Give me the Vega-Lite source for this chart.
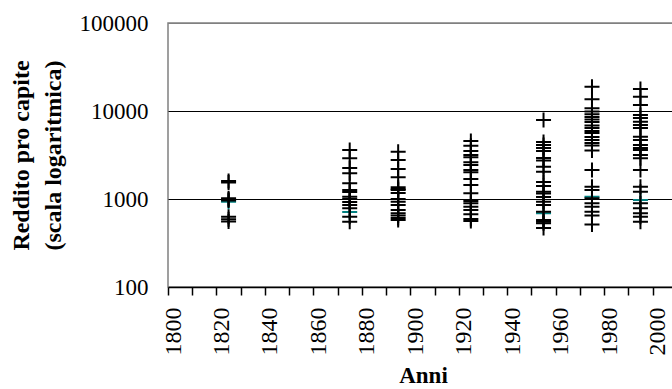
{
  "$schema": "https://vega.github.io/schema/vega-lite/v6.json",
  "width": 510,
  "height": 264,
  "autosize": {"type": "none"},
  "padding": {"left": 168, "top": 23, "right": 0, "bottom": 102},
  "background": "white",
  "config": {
    "font": "Liberation Serif",
    "view": {"stroke": "#808080", "strokeWidth": 1.5}
  },
  "data": {
    "values": [
      {"anno": 1825, "reddito": 930, "serie": "B"},
      {"anno": 1875, "reddito": 712, "serie": "B"},
      {"anno": 1955, "reddito": 688, "serie": "B"},
      {"anno": 1975, "reddito": 1063, "serie": "B"},
      {"anno": 1995, "reddito": 974, "serie": "B"},
      {"anno": 1825, "reddito": 1600, "serie": "A"},
      {"anno": 1825, "reddito": 1540, "serie": "A"},
      {"anno": 1825, "reddito": 1020, "serie": "A"},
      {"anno": 1825, "reddito": 990, "serie": "A"},
      {"anno": 1825, "reddito": 960, "serie": "A"},
      {"anno": 1825, "reddito": 630, "serie": "A"},
      {"anno": 1825, "reddito": 590, "serie": "A"},
      {"anno": 1825, "reddito": 555, "serie": "A"},
      {"anno": 1875, "reddito": 3605, "serie": "A"},
      {"anno": 1875, "reddito": 2900, "serie": "A"},
      {"anno": 1875, "reddito": 2250, "serie": "A"},
      {"anno": 1875, "reddito": 1960, "serie": "A"},
      {"anno": 1875, "reddito": 1507, "serie": "A"},
      {"anno": 1875, "reddito": 1265, "serie": "A"},
      {"anno": 1875, "reddito": 1201, "serie": "A"},
      {"anno": 1875, "reddito": 1063, "serie": "A"},
      {"anno": 1875, "reddito": 1000, "serie": "A"},
      {"anno": 1875, "reddito": 925, "serie": "A"},
      {"anno": 1875, "reddito": 855, "serie": "A"},
      {"anno": 1875, "reddito": 784, "serie": "A"},
      {"anno": 1875, "reddito": 629, "serie": "A"},
      {"anno": 1875, "reddito": 552, "serie": "A"},
      {"anno": 1895, "reddito": 3447, "serie": "A"},
      {"anno": 1895, "reddito": 2774, "serie": "A"},
      {"anno": 1895, "reddito": 2193, "serie": "A"},
      {"anno": 1895, "reddito": 1765, "serie": "A"},
      {"anno": 1895, "reddito": 1358, "serie": "A"},
      {"anno": 1895, "reddito": 1300, "serie": "A"},
      {"anno": 1895, "reddito": 1265, "serie": "A"},
      {"anno": 1895, "reddito": 1170, "serie": "A"},
      {"anno": 1895, "reddito": 1000, "serie": "A"},
      {"anno": 1895, "reddito": 931, "serie": "A"},
      {"anno": 1895, "reddito": 855, "serie": "A"},
      {"anno": 1895, "reddito": 750, "serie": "A"},
      {"anno": 1895, "reddito": 688, "serie": "A"},
      {"anno": 1895, "reddito": 649, "serie": "A"},
      {"anno": 1895, "reddito": 608, "serie": "A"},
      {"anno": 1895, "reddito": 577, "serie": "A"},
      {"anno": 1925, "reddito": 4560, "serie": "A"},
      {"anno": 1925, "reddito": 4034, "serie": "A"},
      {"anno": 1925, "reddito": 3510, "serie": "A"},
      {"anno": 1925, "reddito": 3162, "serie": "A"},
      {"anno": 1925, "reddito": 2978, "serie": "A"},
      {"anno": 1925, "reddito": 2612, "serie": "A"},
      {"anno": 1925, "reddito": 2434, "serie": "A"},
      {"anno": 1925, "reddito": 2136, "serie": "A"},
      {"anno": 1925, "reddito": 2011, "serie": "A"},
      {"anno": 1925, "reddito": 1688, "serie": "A"},
      {"anno": 1925, "reddito": 1443, "serie": "A"},
      {"anno": 1925, "reddito": 1161, "serie": "A"},
      {"anno": 1925, "reddito": 949, "serie": "A"},
      {"anno": 1925, "reddito": 893, "serie": "A"},
      {"anno": 1925, "reddito": 818, "serie": "A"},
      {"anno": 1925, "reddito": 750, "serie": "A"},
      {"anno": 1925, "reddito": 670, "serie": "A"},
      {"anno": 1925, "reddito": 593, "serie": "A"},
      {"anno": 1925, "reddito": 562, "serie": "A"},
      {"anno": 1955, "reddito": 7903, "serie": "A"},
      {"anno": 1955, "reddito": 4443, "serie": "A"},
      {"anno": 1955, "reddito": 4109, "serie": "A"},
      {"anno": 1955, "reddito": 3800, "serie": "A"},
      {"anno": 1955, "reddito": 3510, "serie": "A"},
      {"anno": 1955, "reddito": 2923, "serie": "A"},
      {"anno": 1955, "reddito": 2738, "serie": "A"},
      {"anno": 1955, "reddito": 2330, "serie": "A"},
      {"anno": 1955, "reddito": 2042, "serie": "A"},
      {"anno": 1955, "reddito": 1561, "serie": "A"},
      {"anno": 1955, "reddito": 1405, "serie": "A"},
      {"anno": 1955, "reddito": 1211, "serie": "A"},
      {"anno": 1955, "reddito": 1155, "serie": "A"},
      {"anno": 1955, "reddito": 1054, "serie": "A"},
      {"anno": 1955, "reddito": 931, "serie": "A"},
      {"anno": 1955, "reddito": 855, "serie": "A"},
      {"anno": 1955, "reddito": 717, "serie": "A"},
      {"anno": 1955, "reddito": 577, "serie": "A"},
      {"anno": 1955, "reddito": 552, "serie": "A"},
      {"anno": 1955, "reddito": 529, "serie": "A"},
      {"anno": 1955, "reddito": 468, "serie": "A"},
      {"anno": 1975, "reddito": 18880, "serie": "A"},
      {"anno": 1975, "reddito": 13580, "serie": "A"},
      {"anno": 1975, "reddito": 10730, "serie": "A"},
      {"anno": 1975, "reddito": 9900, "serie": "A"},
      {"anno": 1975, "reddito": 9200, "serie": "A"},
      {"anno": 1975, "reddito": 8550, "serie": "A"},
      {"anno": 1975, "reddito": 8000, "serie": "A"},
      {"anno": 1975, "reddito": 7500, "serie": "A"},
      {"anno": 1975, "reddito": 6840, "serie": "A"},
      {"anno": 1975, "reddito": 6410, "serie": "A"},
      {"anno": 1975, "reddito": 5930, "serie": "A"},
      {"anno": 1975, "reddito": 5620, "serie": "A"},
      {"anno": 1975, "reddito": 5070, "serie": "A"},
      {"anno": 1975, "reddito": 4680, "serie": "A"},
      {"anno": 1975, "reddito": 4330, "serie": "A"},
      {"anno": 1975, "reddito": 4055, "serie": "A"},
      {"anno": 1975, "reddito": 3560, "serie": "A"},
      {"anno": 1975, "reddito": 2136, "serie": "A"},
      {"anno": 1975, "reddito": 1380, "serie": "A"},
      {"anno": 1975, "reddito": 1265, "serie": "A"},
      {"anno": 1975, "reddito": 1018, "serie": "A"},
      {"anno": 1975, "reddito": 893, "serie": "A"},
      {"anno": 1975, "reddito": 818, "serie": "A"},
      {"anno": 1975, "reddito": 717, "serie": "A"},
      {"anno": 1975, "reddito": 649, "serie": "A"},
      {"anno": 1975, "reddito": 513, "serie": "A"},
      {"anno": 1995, "reddito": 17780, "serie": "A"},
      {"anno": 1995, "reddito": 14540, "serie": "A"},
      {"anno": 1995, "reddito": 11700, "serie": "A"},
      {"anno": 1995, "reddito": 9010, "serie": "A"},
      {"anno": 1995, "reddito": 8330, "serie": "A"},
      {"anno": 1995, "reddito": 7560, "serie": "A"},
      {"anno": 1995, "reddito": 6930, "serie": "A"},
      {"anno": 1995, "reddito": 6410, "serie": "A"},
      {"anno": 1995, "reddito": 5105, "serie": "A"},
      {"anno": 1995, "reddito": 4680, "serie": "A"},
      {"anno": 1995, "reddito": 4109, "serie": "A"},
      {"anno": 1995, "reddito": 3800, "serie": "A"},
      {"anno": 1995, "reddito": 3605, "serie": "A"},
      {"anno": 1995, "reddito": 3162, "serie": "A"},
      {"anno": 1995, "reddito": 2900, "serie": "A"},
      {"anno": 1995, "reddito": 2136, "serie": "A"},
      {"anno": 1995, "reddito": 1380, "serie": "A"},
      {"anno": 1995, "reddito": 1211, "serie": "A"},
      {"anno": 1995, "reddito": 893, "serie": "A"},
      {"anno": 1995, "reddito": 784, "serie": "A"},
      {"anno": 1995, "reddito": 688, "serie": "A"},
      {"anno": 1995, "reddito": 629, "serie": "A"},
      {"anno": 1995, "reddito": 552, "serie": "A"}
    ]
  },
  "mark": {
    "type": "point",
    "shape": "M-1,0H1M0,-1V1",
    "filled": false,
    "size": 225,
    "strokeWidth": 2,
    "opacity": 1,
    "clip": true
  },
  "encoding": {
    "x": {
      "field": "anno",
      "type": "quantitative",
      "scale": {"domain": [1800, 2010.5], "nice": false, "zero": false},
      "axis": {
        "title": "Anni",
        "titleFont": "Liberation Serif",
        "titleFontSize": 23,
        "titleFontWeight": "bold",
        "titleColor": "black",
        "titlePadding": 9,
        "values": [1800, 1810, 1820, 1830, 1840, 1850, 1860, 1870, 1880, 1890, 1900, 1910, 1920, 1930, 1940, 1950, 1960, 1970, 1980, 1990, 2000, 2010],
        "format": "d",
        "labelExpr": "datum.value % 20 == 0 ? datum.label : ''",
        "labelAngle": 270,
        "labelFont": "Liberation Serif",
        "labelFontSize": 24,
        "labelColor": "black",
        "labelPadding": 12,
        "labelOffset": 5,
        "labelOverlap": false,
        "labelFlush": false,
        "tickSize": 8,
        "tickColor": "black",
        "tickWidth": 1.5,
        "domainColor": "black",
        "domainWidth": 1.5,
        "grid": false
      }
    },
    "y": {
      "field": "reddito",
      "type": "quantitative",
      "scale": {"type": "log", "domain": [100, 100000], "nice": false},
      "axis": {
        "title": ["Reddito pro capite", "(scala logaritmica)"],
        "titleFont": "Liberation Serif",
        "titleFontSize": 24,
        "titleFontWeight": "bold",
        "titleColor": "black",
        "titleLineHeight": 32,
        "titlePadding": 14,
        "values": [100, 1000, 10000, 100000],
        "format": "d",
        "labelFont": "Liberation Serif",
        "labelFontSize": 23,
        "labelColor": "black",
        "labelPadding": 20,
        "ticks": false,
        "domain": false,
        "grid": true,
        "gridColor": {"condition": {"test": "datum.value == 100000 || datum.value == 100", "value": "#808080"}, "value": "black"},
        "gridWidth": 1.2
      }
    },
    "color": {
      "field": "serie",
      "type": "nominal",
      "scale": {"domain": ["A", "B"], "range": ["black", "#008080"]},
      "legend": null
    }
  }
}
